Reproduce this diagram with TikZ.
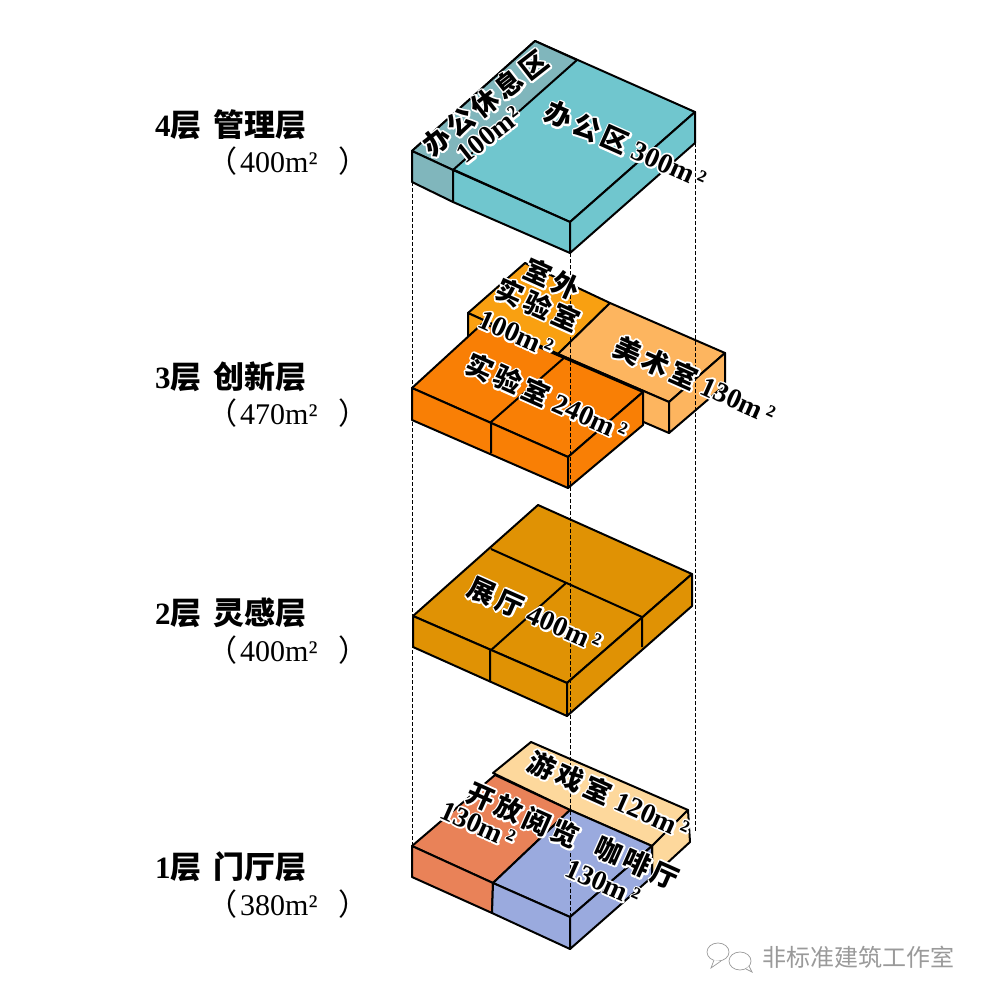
\documentclass[tikz,border=0pt]{standalone}
\usepackage{fontspec}
\usetikzlibrary{positioning, shapes.geometric}
\setmainfont{Liberation Serif}
\newfontfamily\cjk{Noto Sans CJK SC}
\newfontfamily\cjkroom[LetterSpace=14]{Noto Sans CJK SC}
\newcommand{\zh}[1]{{\cjk\bfseries #1}}
\newcommand{\zr}[1]{{\cjkroom\bfseries\fontsize{27}{29}\selectfont #1}}
\newcommand{\halo}[1]{\leavevmode\rlap{\special{pdf:code q 2 Tr 3.6 w 1 j 1 1 1 rg 1 1 1 RG}#1\special{pdf:code Q}}#1}
\definecolor{teal}{HTML}{70C6CE}
\definecolor{tealdark}{HTML}{80B6BC}
\definecolor{labout}{HTML}{F9A011}
\definecolor{art}{HTML}{FDB55F}
\definecolor{lab}{HTML}{F97F05}
\definecolor{hall}{HTML}{E09204}
\definecolor{game}{HTML}{FDD89C}
\definecolor{reading}{HTML}{E98258}
\definecolor{cafe}{HTML}{9AAADE}
\definecolor{mark}{HTML}{9A9A9A}

\begin{document}
\begin{tikzpicture}[
  x=1pt, y=-1pt,
  face/.style={draw=black, line width=2pt, line join=round},
  guide/.style={draw=black, line width=1pt, dash pattern=on 4pt off 2pt},
  floorname/.style={font=\fontsize{31}{33}\selectfont\bfseries, anchor=west, inner sep=0pt},
  floorarea/.style={font=\fontsize{30}{32}\selectfont, anchor=west, inner sep=0pt},
  roomlabel/.style={font=\fontsize{28}{30}\selectfont\bfseries, inner sep=0pt, rotate=-24},
  roomlabelup/.style={font=\fontsize{28}{30}\selectfont\bfseries, inner sep=0pt, rotate=38},
  wechat/.style={draw=mark, line width=0.7pt, fill=white},
]
  \useasboundingbox (0,0) rectangle (986,1000);
  \fill[white] (0,0) rectangle (986,1000);

  % Floor 4
  \filldraw[face, fill=teal] (535,41) -- (695,112) -- (570,222) -- (412,151) -- cycle;
  \filldraw[face, fill=tealdark] (535,41) -- (577,60) -- (453,170) -- (412,151) -- cycle;
  \filldraw[face, fill=tealdark] (412,151) -- (453,170) -- (453,202) -- (412,182) -- cycle;
  \filldraw[face, fill=teal] (453,170) -- (570,222) -- (570,253) -- (453,202) -- cycle;
  \filldraw[face, fill=teal] (570,222) -- (695,112) -- (695,143) -- (570,253) -- cycle;

  % Floor 3, back block
  \filldraw[face, fill=labout] (525,263) -- (610,303) -- (558,354) -- (468,313) -- cycle;
  \filldraw[face, fill=labout] (468,313) -- (558,354) -- (558,385) -- (468,345) -- cycle;
  \filldraw[face, fill=art] (610,303) -- (725,353) -- (669,402) -- (558,354) -- cycle;
  \filldraw[face, fill=art] (558,354) -- (669,402) -- (669,433) -- (558,385) -- cycle;
  \filldraw[face, fill=art] (669,402) -- (725,353) -- (725,385) -- (669,433) -- cycle;
  % Floor 3, front block
  \filldraw[face, fill=lab] (412,388) -- (483,323) -- (643,392) -- (568,457) -- cycle;
  \filldraw[face, fill=lab] (412,388) -- (568,457) -- (568,488) -- (412,420) -- cycle;
  \filldraw[face, fill=lab] (568,457) -- (643,392) -- (643,425) -- (568,488) -- cycle;
  \draw[face] (565,357) -- (491,422) -- (491,453);

  % Floor 2
  \filldraw[face, fill=hall] (538,505) -- (692,574) -- (567,683) -- (413,616) -- cycle;
  \filldraw[face, fill=hall] (413,616) -- (567,683) -- (567,716) -- (413,647) -- cycle;
  \filldraw[face, fill=hall] (567,683) -- (692,574) -- (692,606) -- (567,716) -- cycle;
  \draw[face] (491,549) -- (642,617) -- (642,647);
  \draw[face] (566,583) -- (490,651) -- (490,682);

  % Floor 1
  \filldraw[face, fill=game] (493,773) -- (531,742) -- (688,810) -- (652,846) -- (570,810) -- cycle;
  \filldraw[face, fill=game] (652,846) -- (688,810) -- (690,842) -- (652,877) -- cycle;
  \filldraw[face, fill=reading] (412,846) -- (495,775) -- (570,810) -- (493,883) -- cycle;
  \filldraw[face, fill=cafe] (570,810) -- (652,846) -- (570,917) -- (493,883) -- cycle;
  \filldraw[face, fill=reading] (412,846) -- (493,883) -- (492,913) -- (412,877) -- cycle;
  \filldraw[face, fill=cafe] (493,883) -- (570,917) -- (570,949) -- (492,913) -- cycle;
  \filldraw[face, fill=cafe] (570,917) -- (652,846) -- (652,877) -- (570,949) -- cycle;

  % vertical guides
  \coordinate (guideLtop) at (412,182);
  \coordinate (guideLbot) at (412,846);
  \coordinate (guideMtop) at (570,253);
  \coordinate (guideMbot) at (570,949);
  \coordinate (guideRtop) at (695,143);
  \coordinate (guideRbot) at (695,832);
  \draw[guide] (guideLtop) -- (guideLbot);
  \draw[guide] (guideMtop) -- (guideMbot);
  \draw[guide] (guideRtop) -- (guideRbot);

  % room labels
  \node[roomlabelup] (restname) at (485,103) {\halo{\zr{办公休息区}}};
  \node[roomlabelup] (restarea) at (489,135) {\halo{100m²}};
  \node[roomlabel] (office) at (626,145) {\halo{\zr{办公区} 300m\,²}};
  \node[roomlabel] (outname) at (552,279) {\halo{\zr{室外}}};
  \node[roomlabel] (outlab) at (538,305) {\halo{\zr{实验室}}};
  \node[roomlabel] (outarea) at (516,334) {\halo{100m\,²}};
  \node[roomlabel] (labroom) at (547,397) {\halo{\zr{实验室} 240m\,²}};
  \node[roomlabel] (artroom) at (695,380) {\halo{\zr{美术室} 130m\,²}};
  \node[roomlabel] (hallroom) at (535,615) {\halo{\zr{展厅} 400m\,²}};
  \node[roomlabel] (gameroom) at (609,795) {\halo{\zr{游戏室} 120m\,²}};
  \node[roomlabel] (readname) at (523,815) {\halo{\zr{开放阅览}}};
  \node[roomlabel] (readarea) at (478,825) {\halo{130m\,²}};
  \node[roomlabel] (cafename) at (637,863) {\halo{\zr{咖啡厅}}};
  \node[roomlabel] (cafearea) at (603,883) {\halo{130m\,²}};

  % floor names
  \node[floorname] (name4) at (155,125) {4\zh{层 \hspace{5pt}管理层}};
  \node[floorarea] (area4) at (207,161) {{\cjk （}\hspace{3pt}400m²\hspace{21pt}{\cjk ）}};
  \node[floorname] (name3) at (155,377) {3\zh{层 \hspace{5pt}创新层}};
  \node[floorarea] (area3) at (207,413) {{\cjk （}\hspace{3pt}470m²\hspace{21pt}{\cjk ）}};
  \node[floorname] (name2) at (155,613) {2\zh{层 \hspace{5pt}灵感层}};
  \node[floorarea] (area2) at (207,650) {{\cjk （}\hspace{3pt}400m²\hspace{21pt}{\cjk ）}};
  \node[floorname] (name1) at (155,867) {1\zh{层 \hspace{5pt}门厅层}};
  \node[floorarea] (area1) at (207,904) {{\cjk （}\hspace{3pt}380m²\hspace{21pt}{\cjk ）}};

  % watermark
  \draw[wechat] (718,952) ellipse (11 and 9);
  \draw[wechat] (714,960) -- (711,968) -- (721,961);
  \draw[wechat] (740,961) ellipse (11 and 9);
  \draw[wechat] (746,969) -- (752,972) -- (749,966);
  \node[font=\fontsize{24}{26}\selectfont\cjk, text=mark, anchor=west, inner sep=0pt] (markname) at (762,957) {非标准建筑工作室};
\end{tikzpicture}
\end{document}
